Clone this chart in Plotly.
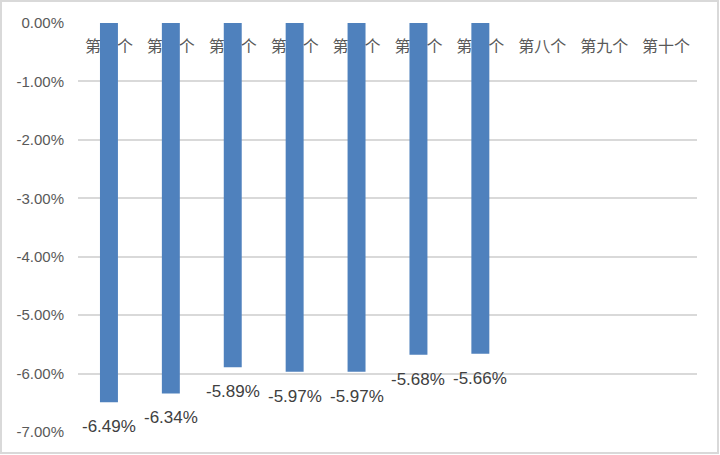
import plotly.graph_objects as go

categories = ["第一个", "第二个", "第三个", "第四个", "第五个", "第六个", "第七个", "第八个", "第九个", "第十个"]
values = [-6.49, -6.34, -5.89, -5.97, -5.97, -5.68, -5.66, None, None, None]
y_ticks = [0, -1, -2, -3, -4, -5, -6, -7]
y_tick_labels = ["0.00%", "-1.00%", "-2.00%", "-3.00%", "-4.00%", "-5.00%", "-6.00%", "-7.00%"]

W, H = 720, 455
ml, mr, mt, mb = 78, 23, 23, 23
pw, ph = W - ml - mr, H - mt - mb

fig = go.Figure()
fig.add_trace(go.Bar(
    x=categories, y=values,
    marker=dict(color="#4f81bd", line=dict(width=0)),
    hoverinfo="x+y",
))

for c, v in zip(categories, values):
    if v is None:
        continue
    fig.add_annotation(
        x=c, y=v, text=f"{v:.2f}%", showarrow=False,
        yanchor="top", yshift=-13,
        font=dict(family="Liberation Sans, Arial, sans-serif", size=17, color="#404040"),
    )

fig.update_layout(
    width=W, height=H,
    margin=dict(l=ml, r=mr, t=mt, b=mb, pad=0, autoexpand=False),
    paper_bgcolor="white", plot_bgcolor="white",
    bargap=0.71,
    showlegend=False,
    hovermode=False,
    xaxis=dict(
        type="category", side="bottom", showgrid=False, zeroline=False,
        showline=False, ticks="", layer="below traces",
        tickfont=dict(family="Noto Sans CJK SC, sans-serif", size=16, color="#595959"),
        anchor="free", position=1.0, ticklabelstandoff=12, automargin=False,
    ),
    yaxis=dict(
        range=[-7, 0], tickvals=y_ticks, ticktext=y_tick_labels,
        showgrid=True, gridcolor="#d9d9d9", gridwidth=2,
        zeroline=False, showline=False, ticks="",
        tickfont=dict(family="Liberation Sans, Arial, sans-serif", size=15, color="#595959"),
        ticklabelstandoff=13, automargin=False,
    ),
    shapes=[dict(
        type="rect", xref="paper", yref="paper",
        x0=-(ml - 1) / pw, x1=1 + (mr - 2) / pw,
        y0=-(mb - 2) / ph, y1=1 + (mt - 1) / ph,
        line=dict(color="#d9d9d9", width=2), layer="below",
    )],
)

fig.write_html("out.html", config={"displayModeBar": False},
               post_script="document.body.style.margin='0';")
